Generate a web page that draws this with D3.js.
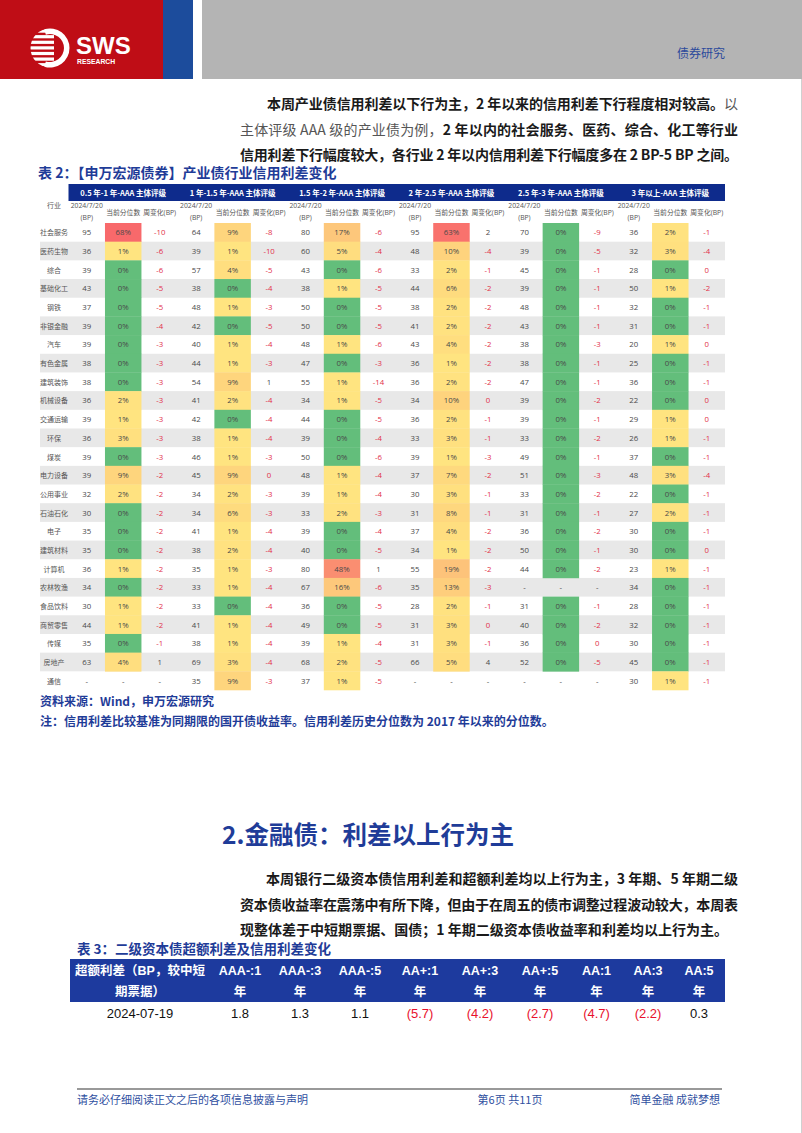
<!DOCTYPE html>
<html lang="zh">
<head>
<meta charset="UTF-8">
<title>产业债行业信用利差变化</title>
<style>
  body { margin: 0; background: #fff; }
  svg { display: block; }
</style>
</head>
<body>
<script src="https://cdn.jsdelivr.net/npm/d3@7"></script>
<div id="page"></div>
<script>

// ---- data: table 2 ----
const industries = ["社会服务","医药生物","综合","基础化工","钢铁","非银金融","汽车","有色金属","建筑装饰","机械设备",
  "交通运输","环保","煤炭","电力设备","公用事业","石油石化","电子","建筑材料","计算机","农林牧渔",
  "食品饮料","商贸零售","传媒","房地产","通信"];
const tenors = ["0.5 年-1 年-AAA 主体评级","1 年-1.5 年-AAA 主体评级","1.5 年-2 年-AAA 主体评级",
  "2 年-2.5 年-AAA 主体评级","2.5 年-3 年-AAA 主体评级","3 年以上-AAA 主体评级"];
// spread (BP) on 2024/7/20, null = "-"
const spread = [
  [95,64,80,95,70,36],[36,39,60,48,39,32],[39,57,43,33,45,28],[43,38,38,44,39,50],[37,48,50,38,48,32],
  [39,42,50,41,43,31],[39,40,48,43,38,20],[38,44,47,36,38,25],[38,54,55,36,47,36],[36,41,34,34,39,22],
  [39,42,44,36,39,29],[36,38,39,33,33,26],[39,46,50,39,49,37],[39,45,48,37,51,48],[32,34,39,30,33,22],
  [30,34,33,31,31,27],[35,41,39,37,36,30],[35,38,40,34,50,30],[36,35,80,55,44,23],[34,33,67,35,null,34],
  [30,33,36,28,31,28],[44,41,49,31,40,32],[35,38,39,31,36,30],[63,69,68,66,52,45],[null,35,37,null,null,30]
];
// current percentile (%)
const pct = [
  [68,9,17,63,0,2],[1,1,5,10,0,3],[0,4,0,2,0,0],[0,0,1,6,0,1],[0,1,0,2,0,0],
  [0,0,0,2,0,0],[0,1,1,4,0,1],[0,1,0,1,0,0],[0,9,1,2,0,0],[2,2,1,10,0,0],
  [1,0,0,2,0,1],[3,1,0,3,0,1],[0,1,0,1,0,0],[9,9,1,7,0,3],[2,2,1,3,0,0],
  [0,6,2,8,0,2],[0,1,0,4,0,0],[0,2,0,1,0,0],[1,1,48,19,0,1],[0,1,16,13,null,0],
  [1,0,0,2,0,0],[1,1,0,3,0,0],[0,1,1,3,0,0],[4,3,2,5,0,0],[null,9,1,null,null,1]
];
// weekly change (BP)
const change = [
  [-10,-8,-6,2,-9,-1],[-6,-10,-4,-4,-5,-4],[-6,-5,-6,-1,-1,0],[-5,-4,-5,-2,-1,-2],[-5,-3,-5,-2,-1,-1],
  [-4,-5,-5,-2,-1,-1],[-3,-4,-6,-2,-3,0],[-3,-3,-3,-2,-1,-1],[-3,1,-14,-2,-1,-1],[-3,-4,-5,0,-2,0],
  [-3,-4,-5,-1,-1,0],[-3,-4,-4,-1,-2,-1],[-3,-3,-6,-3,-1,-1],[-2,0,-4,-2,-3,-4],[-2,-3,-4,-1,-2,-1],
  [-2,-3,-3,-1,-1,-1],[-2,-4,-4,-2,-2,-1],[-2,-4,-5,-2,-1,0],[-2,-3,1,-2,-2,-1],[-2,-4,-6,-3,null,-1],
  [-2,-4,-5,-1,-1,-1],[-2,-4,-5,0,-2,-1],[-1,-4,-4,-1,0,-1],[1,-4,-5,4,-5,-1],[null,-3,-5,null,null,-1]
];
const subHeads = ["2024/7/20", "当前分位数", "周变化(BP)"];

// ---- data: table 3 ----
const t3Cols = ["AAA-:1","AAA-:3","AAA-:5","AA+:1","AA+:3","AA+:5","AA:1","AA:3","AA:5"];
const t3Date = "2024-07-19";
const t3Vals = [1.8, 1.3, 1.1, -5.7, -4.2, -2.7, -4.7, -2.2, 0.3];

// ---- page ----
const cjk = "'Noto Sans CJK SC', 'Noto Sans', sans-serif";
const num = "'Open Sans', 'Noto Sans CJK SC', sans-serif";
const arial = "'Liberation Sans', 'Noto Sans CJK SC', sans-serif";
const blue = "#1f3c98";

const svg = d3.select("#page").append("svg")
    .attr("width", 802).attr("height", 1133);

// header blocks
svg.append("rect").attr("x", 0).attr("y", 0).attr("width", 163).attr("height", 79).attr("fill", "#bf0d16");
svg.append("rect").attr("x", 163).attr("y", 0).attr("width", 30).attr("height", 79).attr("fill", "#1c4c9c");
svg.append("rect").attr("x", 202).attr("y", 0).attr("width", 600).attr("height", 79).attr("fill", "#b4b4b4");
svg.append("line").attr("x1", 801.5).attr("x2", 801.5).attr("y1", 79).attr("y2", 1133)
    .attr("stroke", "#d0d0d0");

// logo emblem
const logo = svg.append("g");
logo.append("clipPath").attr("id", "emb")
  .append("circle").attr("cx", 50).attr("cy", 48).attr("r", 19.5);
logo.append("path")
    .attr("d", d3.arc().innerRadius(14).outerRadius(19.5).startAngle(-0.3).endAngle(Math.PI + 0.3)())
    .attr("transform", "translate(50,48)")
    .attr("fill", "#fff");
logo.append("g").attr("clip-path", "url(#emb)")
  .selectAll("rect").data(d3.range(7)).join("rect")
    .attr("x", 30).attr("width", 24)
    .attr("y", d => 29.5 + d * 5.6).attr("height", 3.2)
    .attr("fill", "#fff");
svg.append("text").attr("x", 76).attr("y", 54).text("SWS")
    .attr("font-family", arial).attr("font-weight", "bold").attr("font-size", 24).attr("fill", "#fff");
svg.append("text").attr("x", 77).attr("y", 64).text("RESEARCH")
    .attr("font-family", arial).attr("font-weight", "bold").attr("font-size", 6.8).attr("fill", "#fff");
svg.append("text").attr("x", 725).attr("y", 52).text("债券研究")
    .attr("text-anchor", "end").attr("dominant-baseline", "central")
    .attr("font-family", cjk).attr("font-size", 12).attr("fill", "#2c4a9c");

// paragraph helper: each line is justified with textLength
function para(lines, y0) {
  lines.forEach((ln, i) => {
    const t = svg.append("text")
        .attr("x", ln.x).attr("y", y0 + i * 25.5)
        .attr("dominant-baseline", "central")
        .attr("font-family", cjk).attr("font-size", 14);
    if (ln.w) t.attr("textLength", ln.w).attr("lengthAdjust", "spacing");
    ln.parts.forEach(p => {
      t.append("tspan").text(p[0])
        .attr("font-weight", p[1] ? "bold" : "normal")
        .attr("fill", p[1] ? "#1a1a1a" : "#555");
    });
  });
}

para([
  {x: 267, w: 471, parts: [["本周产业债信用利差以下行为主，2 年以来的信用利差下行程度相对较高。", true], ["以", false]]},
  {x: 240, w: 498, parts: [["主体评级 AAA 级的产业债为例，", false], ["2 年以内的社会服务、医药、综合、化工等行业", true]]},
  {x: 240, w: 498, parts: [["信用利差下行幅度较大，各行业 2 年以内信用利差下行幅度多在 2 BP-5 BP 之间。", true]]}
], 103);

svg.append("text").attr("x", 38).attr("y", 172).text("表 2：【申万宏源债券】产业债行业信用利差变化")
    .attr("dominant-baseline", "central")
    .attr("font-family", cjk).attr("font-weight", "bold").attr("font-size", 14).attr("fill", blue);

// ---- table 2 ----
const x = d3.scaleBand().domain(d3.range(18)).range([68.5, 725]);
const y = d3.scaleBand().domain(industries).range([223, 690]);
const heat = d3.scaleLinear().domain([1, 68]).range(["#ffe480", "#f8696b"]);
const pctFill = v => v === 0 ? "#63be7b" : heat(v);

const t2 = svg.append("g");

// header band
t2.append("rect").attr("x", 68.5).attr("y", 184).attr("width", 725 - 68.5).attr("height", 17)
    .attr("fill", "#0e2b8c");
t2.selectAll(".grp").data(tenors).join("text")
    .attr("x", (d, i) => x(i * 3) + x.bandwidth() * 1.5)
    .attr("y", 192.5)
    .attr("text-anchor", "middle").attr("dominant-baseline", "central")
    .attr("font-family", cjk).attr("font-weight", "bold").attr("font-size", 7.5)
    .attr("fill", "#fff")
    .text(d => d);

t2.append("text").attr("x", 54).attr("y", 205).text("行业")
    .attr("text-anchor", "middle").attr("dominant-baseline", "central")
    .attr("font-family", cjk).attr("font-size", 7).attr("fill", "#555");

const subs = d3.range(18).map(i => ({i, k: i % 3}));
t2.selectAll(".sub").data(subs).join("text")
    .attr("x", d => x(d.i) + x.bandwidth() / 2)
    .attr("y", d => d.k === 0 ? 205 : 212)
    .attr("text-anchor", "middle").attr("dominant-baseline", "central")
    .attr("font-family", num).attr("font-size", 6.8).attr("fill", "#555")
    .text(d => subHeads[d.k]);
t2.selectAll(".subbp").data(subs.filter(d => d.k === 0)).join("text")
    .attr("x", d => x(d.i) + x.bandwidth() / 2)
    .attr("y", 217.5)
    .attr("text-anchor", "middle").attr("dominant-baseline", "central")
    .attr("font-family", num).attr("font-size", 6.8).attr("fill", "#555")
    .text("(BP)");

// stripes
t2.selectAll(".stripe").data(industries.filter((d, i) => i % 2 === 1)).join("rect")
    .attr("x", 40).attr("width", 725 - 40)
    .attr("y", d => y(d)).attr("height", y.bandwidth())
    .attr("fill", "#e8e8e8");

// cells
const cells = [];
industries.forEach((ind, r) => {
  tenors.forEach((t, g) => {
    cells.push({ind, r, col: g * 3, kind: "s", v: spread[r][g]});
    cells.push({ind, r, col: g * 3 + 1, kind: "p", v: pct[r][g]});
    cells.push({ind, r, col: g * 3 + 2, kind: "c", v: change[r][g]});
  });
});

t2.selectAll(".heat").data(cells.filter(d => d.kind === "p" && d.v !== null)).join("rect")
    .attr("x", d => x(d.col)).attr("width", x.bandwidth())
    .attr("y", d => y(d.ind)).attr("height", y.bandwidth() + 0.3)
    .attr("fill", d => pctFill(d.v));

t2.selectAll(".val").data(cells).join("text")
    .attr("x", d => x(d.col) + x.bandwidth() / 2)
    .attr("y", d => y(d.ind) + y.bandwidth() / 2)
    .attr("text-anchor", "middle").attr("dominant-baseline", "central")
    .attr("font-family", num).attr("font-size", 7.8)
    .attr("fill", d => (d.kind === "c" && d.v !== null && d.v <= 0) ? "#e2304a" : "#4a4a4a")
    .text(d => d.v === null ? "-" : (d.kind === "p" ? d.v + "%" : d.v));

t2.selectAll(".ind").data(industries).join("text")
    .attr("x", 54)
    .attr("y", d => y(d) + y.bandwidth() / 2)
    .attr("text-anchor", "middle").attr("dominant-baseline", "central")
    .attr("font-family", cjk).attr("font-size", 7).attr("fill", "#555")
    .text(d => d);

// notes
svg.append("text").attr("x", 40).attr("y", 700).text("资料来源：Wind，申万宏源研究")
    .attr("dominant-baseline", "central")
    .attr("font-family", cjk).attr("font-weight", "bold").attr("font-size", 12).attr("fill", blue);
svg.append("text").attr("x", 40).attr("y", 720).text("注：信用利差比较基准为同期限的国开债收益率。信用利差历史分位数为 2017 年以来的分位数。")
    .attr("dominant-baseline", "central")
    .attr("font-family", cjk).attr("font-weight", "bold").attr("font-size", 12).attr("fill", blue);

// section 2
svg.append("text").attr("x", 222).attr("y", 833).text("2.金融债：利差以上行为主")
    .attr("dominant-baseline", "central")
    .attr("font-family", cjk).attr("font-weight", "bold").attr("font-size", 24.5).attr("fill", blue);

para([
  {x: 266, w: 472, parts: [["本周银行二级资本债信用利差和超额利差均以上行为主，3 年期、5 年期二级", true]]},
  {x: 240, w: 498, parts: [["资本债收益率在震荡中有所下降，但由于在周五的债市调整过程波动较大，本周表", true]]},
  {x: 240, w: 488, parts: [["现整体差于中短期票据、国债；1 年期二级资本债收益率和利差均以上行为主。", true]]}
], 878);

svg.append("text").attr("x", 77).attr("y", 948).text("表 3：二级资本债超额利差及信用利差变化")
    .attr("dominant-baseline", "central")
    .attr("font-family", cjk).attr("font-weight", "bold").attr("font-size", 13.5).attr("fill", blue);

// ---- table 3 ----
const t3Widths = [140, 60, 60, 60, 60, 60, 60, 53, 50, 52];
const t3Edges = [0, ...d3.cumsum(t3Widths)];
const x3 = d3.scaleLinear().domain([0, d3.sum(t3Widths)]).range([70, 725]);
const c3 = i => x3((t3Edges[i] + t3Edges[i + 1]) / 2);

const t3 = svg.append("g");
t3.append("rect").attr("x", x3(0)).attr("y", 959)
    .attr("width", x3(d3.sum(t3Widths)) - x3(0)).attr("height", 43)
    .attr("fill", "#1d3a9e");

const head1 = ["超额利差（BP，较中短", ...t3Cols];
const head2 = ["期票据）", ...t3Cols.map(() => "年")];
[head1, head2].forEach((row, j) => {
  t3.selectAll(".h" + j).data(row).join("text")
      .attr("x", (d, i) => c3(i))
      .attr("y", j === 0 ? 971 : 992)
      .attr("text-anchor", "middle").attr("dominant-baseline", "central")
      .attr("font-family", arial).attr("font-weight", "bold").attr("font-size", 12.5)
      .attr("fill", "#fff")
      .text(d => d);
});

const fmt = d3.format(".1f");
t3.selectAll(".v3").data([t3Date, ...t3Vals]).join("text")
    .attr("x", (d, i) => c3(i))
    .attr("y", 1013)
    .attr("text-anchor", "middle").attr("dominant-baseline", "central")
    .attr("font-family", arial).attr("font-size", 13)
    .attr("fill", d => (typeof d === "number" && d < 0) ? "#e8112d" : "#111")
    .text(d => typeof d === "number" ? (d < 0 ? "(" + fmt(-d) + ")" : fmt(d)) : d);

// footer
svg.append("line").attr("x1", 77).attr("x2", 722).attr("y1", 1089).attr("y2", 1089)
    .attr("stroke", "#999").attr("stroke-width", 2);
const foot = [["请务必仔细阅读正文之后的各项信息披露与声明", 77, "start"],
              ["第6页 共11页", 510, "middle"],
              ["简单金融 成就梦想", 720, "end"]];
svg.selectAll(".foot").data(foot).join("text")
    .attr("x", d => d[1]).attr("y", 1099)
    .attr("text-anchor", d => d[2]).attr("dominant-baseline", "central")
    .attr("font-family", cjk).attr("font-size", 11).attr("fill", "#2f4f9f")
    .text(d => d[0]);

</script>
</body>
</html>
